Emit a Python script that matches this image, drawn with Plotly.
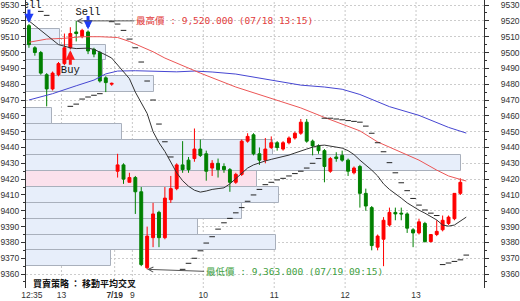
import plotly.graph_objects as go

# ---------------- categories: 5-minute bars, labelled by end time ----------------
def session(start, end, step=5):
    h, m = start
    out = []
    while (h, m) <= end:
        out.append(f"{h:02d}:{m:02d}")
        m += step
        if m >= 60:
            h, m = h + 1, m - 60
    return out

day1 = ["07/18 " + t for t in session((12, 35), (13, 45))]
day2 = ["07/19 " + t for t in session((8, 50), (13, 40))]
bar_time = day1 + day2
idx = list(range(len(bar_time)))

# ---------------- OHLC ----------------
open_ = [9517, 9503, 9500, 9486, 9477, 9486, 9493, 9503, 9513, 9510,
         9513, 9502, 9500, 9484, 9480,
         9425, 9429, 9418, 9421, 9412, 9364, 9383, 9399, 9383, 9407,
         9414, 9429, 9432, 9433, 9439, 9436, 9427, 9430, 9428, 9426,
         9418, 9423, 9444, 9448, 9436, 9432, 9440, 9443, 9439, 9443,
         9446, 9449, 9456, 9444, 9441, 9438, 9425, 9434, 9435, 9432,
         9424, 9428, 9411, 9402, 9377, 9382, 9391, 9399, 9398.5, 9398,
         9388, 9386, 9392, 9380.5, 9385, 9388, 9392, 9395, 9411]
high = [9518, 9504, 9501, 9487, 9488, 9494, 9512, 9516, 9520, 9515,
        9514, 9503, 9501, 9485, 9481,
        9436, 9430, 9424, 9422, 9415, 9390, 9405, 9400, 9415, 9422,
        9430, 9444, 9434, 9452, 9445, 9438, 9432, 9433, 9430, 9427,
        9424, 9445, 9449, 9449, 9440, 9446, 9447, 9444, 9444, 9447,
        9450, 9458, 9458, 9445, 9442, 9439, 9434, 9437, 9438, 9433,
        9428, 9429, 9414, 9403, 9385, 9396, 9402, 9402, 9402, 9399,
        9389, 9395, 9393, 9385, 9394, 9397, 9397, 9411, 9420.5]
low = [9503, 9498, 9486, 9466, 9476, 9485, 9492, 9502, 9507, 9509,
       9499, 9497, 9481, 9475, 9479,
       9421, 9417, 9418, 9398, 9365, 9363, 9377, 9377, 9382, 9405,
       9413, 9424, 9424, 9431, 9434, 9419, 9422, 9421, 9424, 9412,
       9417, 9422, 9443, 9435, 9429, 9430, 9439, 9438, 9438, 9442,
       9445, 9448, 9443, 9435, 9436, 9418, 9424, 9431, 9431, 9422,
       9423, 9402, 9400, 9375, 9375, 9365, 9390, 9394, 9394, 9386,
       9377, 9385, 9380, 9380, 9384, 9387, 9391, 9394, 9410]
close = [9505, 9500, 9487, 9477, 9487, 9493, 9503, 9512, 9512, 9514,
         9501, 9499, 9482, 9481, 9480.5,
         9429, 9420, 9421, 9412, 9366, 9384, 9398, 9383, 9408, 9414,
         9429, 9426, 9426, 9439, 9435, 9425, 9430, 9426, 9426, 9418,
         9423, 9444, 9447, 9436, 9432, 9439, 9443, 9440, 9443, 9446,
         9449, 9456, 9444, 9441, 9438, 9428, 9433, 9433, 9432, 9425,
         9427, 9411, 9403, 9378, 9384, 9394, 9399, 9398, 9398, 9389,
         9386, 9393, 9380.5, 9385, 9387, 9394, 9396, 9411, 9418]

# ---------------- moving averages (read at bar positions) ----------------
ma_short_k = [0, 1, 2, 3, 4, 5, 6, 7, 8, 9, 10, 11, 12, 13, 14, 15, 16, 17, 18, 19,
              20, 21, 22, 23, 24, 25, 26, 27, 28, 29, 30, 31, 32, 33, 34, 35, 36, 37,
              38, 39, 40, 41, 42, 43, 44, 45, 46, 47, 48, 49, 50, 51, 52, 53, 54, 55,
              56, 57, 58, 59, 60, 61, 62, 63, 64, 65, 66, 67, 68, 69, 70, 71, 72, 73, 74]
ma_short_v = [9520, 9517, 9514, 9510.5, 9507.5, 9505, 9504, 9503, 9502.5, 9502.5,
              9502.8, 9502, 9500.5, 9498.5, 9496.5, 9492, 9488, 9483.5, 9475, 9468,
              9461.5, 9450, 9443, 9437.5, 9431, 9424, 9419, 9415.5, 9413, 9411.8,
              9412.5, 9413.5, 9414, 9414.5, 9417, 9420.5, 9424, 9427, 9429, 9430.5,
              9431.5, 9432.5, 9433.3, 9434.2, 9435.2, 9436.5, 9438, 9439, 9440.2, 9441.2,
              9441.5, 9441, 9440.3, 9439.6, 9438, 9435.5, 9432, 9429, 9425.7, 9422,
              9417, 9413.5, 9411, 9408, 9405, 9402.5, 9400.4, 9398.5, 9396.5, 9394.2,
              9391, 9390.3, 9391, 9393.5, 9396]
ma_mid_k = [0, 3, 6, 9, 12, 15, 17, 19, 21, 23, 25, 29, 35, 41, 46, 50, 53, 56, 59,
            62, 66, 69, 71, 73, 74]
ma_mid_v = [9506.5, 9508.5, 9509, 9510, 9510, 9509.5, 9507, 9504, 9500.5, 9496.5,
            9493.3, 9487, 9478.2, 9471.2, 9465, 9459, 9455, 9450.5, 9443.5, 9438.4,
            9432, 9425.7, 9422, 9419.8, 9418.8]
ma_long_k = [0, 4, 8, 11, 13, 15, 18, 22, 25, 28, 31, 35, 41, 46, 50, 53, 56, 61, 66,
             71, 74]
ma_long_v = [9470, 9474, 9479, 9482.6, 9486.5, 9488.3, 9488.5, 9488.3, 9487.8, 9488.3,
             9487.7, 9486.4, 9482.6, 9479.4, 9478.2, 9476.8, 9473.5, 9465.8, 9460.3,
             9452.7, 9449.1]

# ---------------- parabolic SAR dots ----------------
sar_k = [2, 3, 7, 8, 9, 10, 11, 12, 14, 15, 16, 17, 18, 19, 20, 21, 22, 23, 24,
         26, 27, 28, 29, 30, 31, 32, 33, 34, 35, 36, 37, 38, 39, 40, 41, 42, 43, 44,
         45, 46, 47, 48, 49, 50, 51, 52, 53, 54, 55, 56, 57, 58, 59, 60, 61, 62, 63,
         64, 65, 66, 67, 68, 69, 70, 71, 72, 73, 74]
sar_v = [9526, 9523.5, 9466, 9467.4, 9470.6, 9471.9, 9473, 9474, 9519.5, 9518, 9514,
         9508.5, 9503, 9494, 9482, 9470, 9454.8, 9443.6, 9434,
         9363, 9366.8, 9370, 9374.7, 9379.6, 9383.6, 9388.4, 9392.4, 9395.2, 9398.7,
         9402, 9406, 9410, 9413.5, 9416.5, 9418, 9419.5, 9420.5, 9422, 9423.5, 9425,
         9427, 9430, 9433, 9458.5, 9458.5, 9458, 9457.5, 9457, 9456.5, 9456, 9453.5,
         9449, 9443, 9437.3, 9430.4, 9424, 9417.7, 9412.7, 9407.8, 9403.6, 9400.5,
         9398.5, 9397, 9366, 9367, 9368, 9369, 9372]

# ---------------- strategy signals ----------------
sell_idx = [0, 10]
buy_idx = [7]

# ---------------- volume-at-price profile ----------------
profile_price = [9370, 9380, 9390, 9400, 9410, 9420, 9430, 9440, 9450, 9460, 9470,
                 9480, 9490, 9500, 9510]
profile_vol = [860, 2540, 1750, 2190, 2570, 2350, 4420, 2510, 970, 260, 0,
               1300, 780, 810, 350]
profile_bin = 10

# ---------------- axis ticks ----------------
tick_text = ["12:35", "13", "<b>7/19</b>", "9", "10", "11", "12", "13"]
tick_time = ["07/18 12:35", "07/18 13:00", "07/18 13:45", "07/19 09:00",
             "07/19 10:00", "07/19 11:00", "07/19 12:00", "07/19 13:00"]
tick_pos = [bar_time.index(t) + 0.5 for t in tick_time]
grid_pos = tick_pos[1:]

strategy_text = "買賣策略 ： 移動平均交叉"

# ============================ figure ============================
Y_RANGE = [9351.2, 9533.2]
fig = go.Figure()

last_close = close[-1]
box_colors = ["#fbe1ec" if abs(p - last_close) <= profile_bin / 2 else "#e7eefa"
              for p in profile_price]
fig.add_trace(go.Bar(x=profile_vol, y=profile_price, orientation="h", width=profile_bin,
                     marker=dict(color=box_colors, line=dict(color="#a9b0bc", width=1)),
                     xaxis="x", yaxis="y", hoverinfo="skip"))

fig.add_trace(go.Candlestick(
    x=idx, open=open_, high=high, low=low, close=close, xaxis="x2", yaxis="y",
    whiskerwidth=0,
    increasing=dict(line=dict(color="#ff0000", width=1), fillcolor="#ff0000"),
    decreasing=dict(line=dict(color="#008000", width=1), fillcolor="#008000"),
    hoverinfo="skip"))

for kk, vv, col in [(ma_long_k, ma_long_v, "#4646d2"),
                    (ma_mid_k, ma_mid_v, "#ec5656"),
                    (ma_short_k, ma_short_v, "#333333")]:
    fig.add_trace(go.Scatter(x=kk, y=vv, mode="lines", xaxis="x2", yaxis="y",
                             line=dict(color=col, width=1), hoverinfo="skip"))

fig.add_trace(go.Scatter(x=sar_k, y=sar_v, mode="markers", xaxis="x2", yaxis="y",
                         marker=dict(symbol="line-ew", size=4,
                                     line=dict(width=1, color="#222222")),
                         hoverinfo="skip"))

sig_font = dict(family="Liberation Mono, DejaVu Sans Mono", size=10.5, color="#111111")
fig.add_trace(go.Scatter(x=sell_idx, y=[high[i] + 11.5 for i in sell_idx], mode="text",
                         text=["Sell"] * len(sell_idx), textfont=sig_font,
                         xaxis="x2", yaxis="y", cliponaxis=True, hoverinfo="skip"))
fig.add_trace(go.Scatter(x=buy_idx, y=[low[i] - 13 for i in buy_idx], mode="text",
                         text=["Buy"] * len(buy_idx), textfont=sig_font,
                         xaxis="x2", yaxis="y", cliponaxis=True, hoverinfo="skip"))

# invisible trace so that the right-hand price axis is drawn
fig.add_trace(go.Scatter(x=idx, y=close, mode="lines", xaxis="x2", yaxis="y2",
                         line=dict(width=0), opacity=0, hoverinfo="skip"))

ann = []
for i in sell_idx:
    ann.append(dict(x=i, y=high[i], xref="x2", yref="y", text="", showarrow=True,
                    ax=0, ay=-16, arrowhead=2, arrowsize=0.62, arrowwidth=3,
                    arrowcolor="#1f3cf5", standoff=1))
for i in buy_idx:
    ann.append(dict(x=i, y=low[i], xref="x2", yref="y", text="", showarrow=True,
                    ax=0, ay=17, arrowhead=2, arrowsize=0.62, arrowwidth=3,
                    arrowcolor="#ff1a1a", standoff=1))

imax = max(idx, key=lambda i: high[i])
imin = min(idx, key=lambda i: low[i])
lab_font = "DejaVu Sans Mono, Noto Sans CJK TC"
ann.append(dict(x=imax, y=high[imax], xref="x2", yref="y",
                text=f"最高價 : {high[imax]:,.3f} ({bar_time[imax]})",
                showarrow=True, ax=58, ay=0, arrowhead=5, arrowsize=1, arrowwidth=1,
                arrowcolor="#555555", xanchor="left",
                font=dict(family=lab_font, size=9.5, color="#e23c3c")))
ann.append(dict(x=imin, y=low[imin], xref="x2", yref="y",
                text=f"最低價 : {low[imin]:,.3f} ({bar_time[imin]})",
                showarrow=True, ax=57, ay=2, arrowhead=5, arrowsize=1, arrowwidth=1,
                arrowcolor="#555555", xanchor="left",
                font=dict(family=lab_font, size=9.5, color="#3f9f3f")))
ann.append(dict(x=5 / 465, y=5 / 288, xref="paper", yref="paper",
                text=f"<b>{strategy_text}</b>", showarrow=False, xanchor="left",
                yanchor="middle",
                font=dict(family="Noto Sans CJK TC", size=9, color="#111111")))

shapes = [dict(type="line", xref="x2", yref="paper", x0=g, x1=g, y0=0, y1=1,
               layer="below", line=dict(color="#c8c8c8", width=1, dash="2px,2px"))
          for g in grid_pos]

tick_font = dict(family="Liberation Sans, Arial", size=8.5, color="#333333")
yaxis_common = dict(range=Y_RANGE, dtick=10, tick0=9360, ticks="outside", ticklen=4,
                    tickcolor="#333333", showline=True, linecolor="#333333",
                    linewidth=1, tickfont=tick_font, zeroline=False, fixedrange=True,
                    minor=dict(dtick=5, tick0=9355, ticks="outside", ticklen=2,
                               tickcolor="#333333", showgrid=False))

fig.update_layout(
    width=520, height=301, margin=dict(l=22, r=33, t=0, b=13),
    paper_bgcolor="white", plot_bgcolor="white", showlegend=False,
    bargap=0,
    xaxis=dict(range=[0, 4650], visible=False, fixedrange=True),
    xaxis2=dict(overlaying="x", anchor="y", range=[-0.5, 77], tickvals=tick_pos,
                ticktext=tick_text, showgrid=False, zeroline=False, ticks="",
                showline=False, tickfont=tick_font, rangeslider=dict(visible=False),
                fixedrange=True),
    yaxis=dict(showgrid=True, gridcolor="#cccccc", griddash="2px,2px", **yaxis_common),
    yaxis2=dict(overlaying="y", side="right", anchor="x2", showgrid=False,
                ticklabelstandoff=10, **yaxis_common),
    annotations=ann, shapes=shapes,
)

fig.write_html("out.html")
